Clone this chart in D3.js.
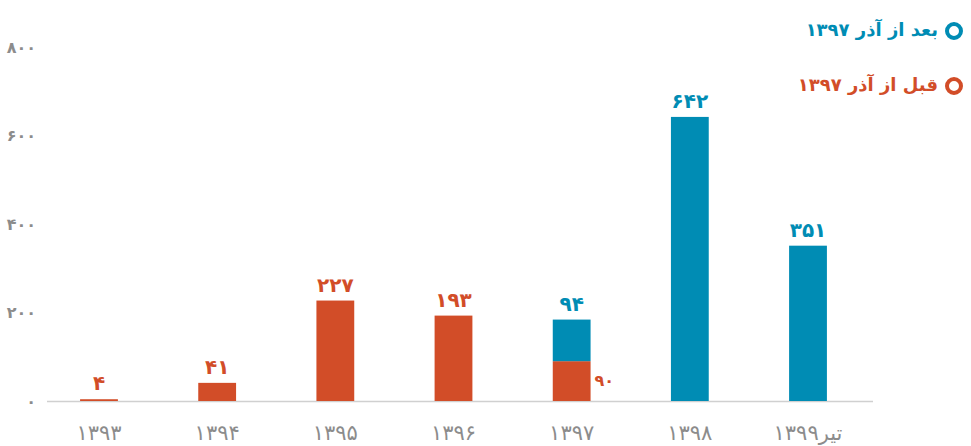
<!DOCTYPE html>
<html>
<head>
<meta charset="utf-8">
<script src="https://cdn.jsdelivr.net/npm/d3@7"></script>
<style>
  body { margin: 0; background: #fff; }
  svg text { font-family: "DejaVu Sans", sans-serif; }
</style>
</head>
<body>
<svg id="chart"></svg>
<script>
let years = ['۱۳۹۳', '۱۳۹۴', '۱۳۹۵', '۱۳۹۶', '۱۳۹۷', '۱۳۹۸', 'تیر۱۳۹۹']
let before = [4, 41, 227, 193, 90, 0, 0]
let after = [0, 0, 0, 0, 94, 642, 351]
let seriesNames = ['بعد از آذر ۱۳۹۷', 'قبل از آذر ۱۳۹۷']
let yTicks = [0, 200, 400, 600, 800]

let width = 971
let height = 446
let blue = '#008cb4'
let red = '#d24d28'
let grey = '#8c8c8c'

let faNum = (n) => String(n).replace(/\d/g, d => '۰۱۲۳۴۵۶۷۸۹'[d])

let svg = d3.select('#chart').attr('width', width).attr('height', height)

let xScale = d3.scaleBand()
  .domain(years)
  .range([47, 860])
  .paddingInner(0.68)
  .paddingOuter(0.28)

let yScale = d3.scaleLinear()
  .domain([0, 800])
  .range([401, 47])

let rows = years.map((y, i) => ({year: y, before: before[i], after: after[i]}))
let stacked = d3.stack().keys(['before', 'after'])(rows)
let colors = {before: red, after: blue}

// y axis labels only
let yAxis = d3.axisLeft(yScale).tickValues(yTicks).tickFormat(faNum).tickSize(0)
let gy = svg.append('g').attr('transform', 'translate(36,0)').call(yAxis)
gy.select('.domain').remove()
gy.selectAll('text')
  .attr('fill', grey)
  .attr('font-size', 16)
  .attr('font-weight', 'bold')
  .attr('x', 0)

// baseline
svg.append('line')
  .attr('x1', 47).attr('x2', 873)
  .attr('y1', yScale(0) + 0.5).attr('y2', yScale(0) + 0.5)
  .attr('stroke', '#d0d0d0').attr('stroke-width', 1.5)

// bars
svg.selectAll('g.layer')
  .data(stacked)
  .enter()
  .append('g')
  .attr('class', 'layer')
  .attr('fill', d => colors[d.key])
  .selectAll('rect')
  .data(d => d)
  .enter()
  .append('rect')
  .attr('x', d => xScale(d.data.year))
  .attr('width', xScale.bandwidth())
  .attr('y', d => yScale(d[1]))
  .attr('height', d => yScale(d[0]) - yScale(d[1]))

// value labels above bars
let cx = (y) => xScale(y) + xScale.bandwidth() / 2
rows.forEach(r => {
  let total = r.before + r.after
  let topVal = r.after > 0 ? r.after : r.before
  svg.append('text')
    .attr('x', cx(r.year))
    .attr('y', yScale(total) - 9)
    .attr('text-anchor', 'middle')
    .attr('font-size', 20)
    .attr('font-weight', 'bold')
    .attr('fill', r.after > 0 ? blue : red)
    .text(faNum(topVal))
  if (r.after > 0 && r.before > 0) {
    svg.append('text')
      .attr('x', xScale(r.year) + xScale.bandwidth() + 4)
      .attr('y', yScale(r.before / 2))
      .attr('dominant-baseline', 'middle')
      .attr('font-size', 16)
      .attr('font-weight', 'bold')
      .attr('fill', red)
      .text(faNum(r.before))
  }
})

// x axis labels
let xAxis = d3.axisBottom(xScale).tickSize(0)
let gx = svg.append('g').attr('transform', 'translate(0,' + yScale(0) + ')').call(xAxis)
gx.select('.domain').remove()
gx.selectAll('text')
  .attr('fill', grey)
  .attr('font-size', 21)
  .attr('dy', 0)
  .attr('y', 39)

// legend
let legendColors = [blue, red]
let legendY = [31, 86]
seriesNames.forEach((name, i) => {
  svg.append('circle')
    .attr('cx', 954).attr('cy', legendY[i]).attr('r', 7)
    .attr('fill', 'none').attr('stroke', legendColors[i]).attr('stroke-width', 4)
  svg.append('text')
    .attr('x', 938).attr('y', legendY[i])
    .attr('dominant-baseline', 'middle')
    .attr('text-anchor', 'end')
    .attr('font-size', 18)
    .attr('font-weight', 'bold')
    .attr('fill', legendColors[i])
    .text(name)
})
</script>
</body>
</html>
